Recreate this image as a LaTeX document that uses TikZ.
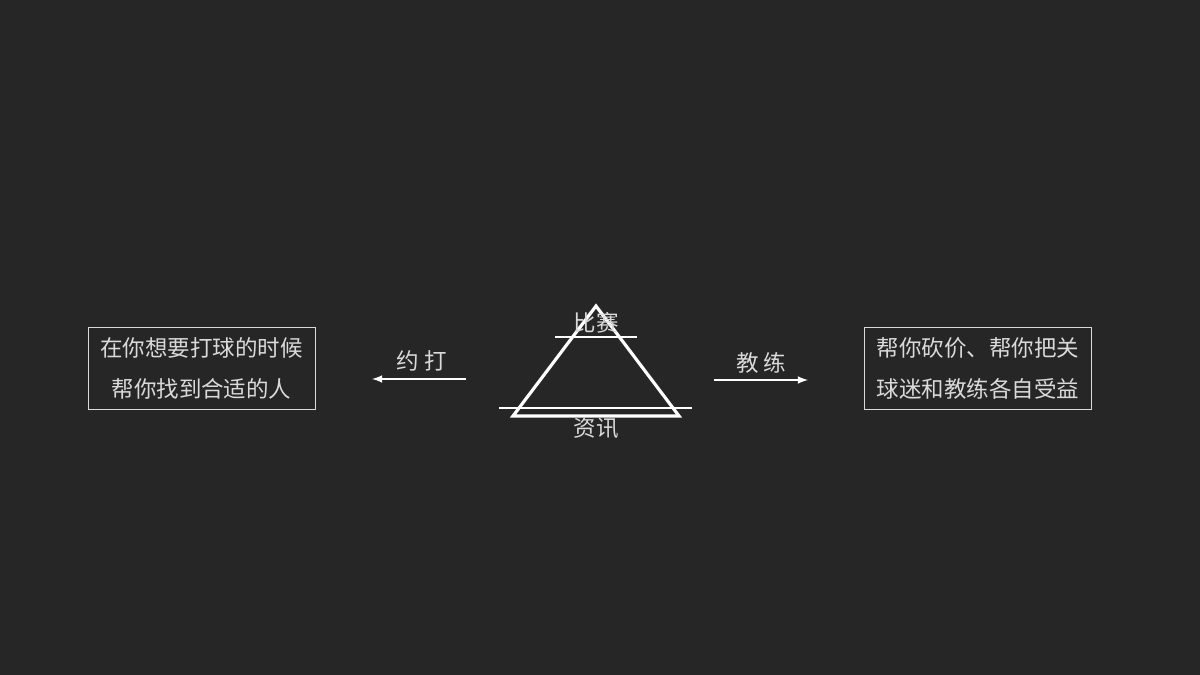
\documentclass[tikz,border=0pt]{standalone}
\usepackage{fontspec}
\setmainfont{Noto Sans CJK SC}
\definecolor{bgdark}{HTML}{262626}
\definecolor{softwhite}{HTML}{DADADA}
\begin{document}
\begin{tikzpicture}[x=0.02cm,y=-0.02cm,
    every node/.style={text=softwhite,font=\fontsize{12.8}{23.6}\selectfont},
    infobox/.style={draw=softwhite,line width=0.5pt,minimum width=4.54cm,minimum height=1.64cm,align=center,inner sep=0pt}]
        \fill[bgdark] (0,0) rectangle (1200,675);
        % pyramid
        \draw[white,line width=1.8pt,line join=miter] (596,306) -- (679,416) -- (513,416) -- cycle;
        \draw[white,line width=1pt] (555,337) -- (637,337);
        \draw[white,line width=1pt] (499,408) -- (692,408);
        \node (top) at (596,323) {比赛};
        \node (bottom) at (596,428) {资讯};
        % boxes
        \node[infobox] (leftbox) at (201.5,368.5) {在你想要打球的时候\\帮你找到合适的人};
        \node[infobox] (rightbox) at (978,368.5) {帮你砍价、帮你把关\\球迷和教练各自受益};
        % arrows
        \coordinate (la) at (466,379);
        \coordinate (lb) at (372,379);
        \coordinate (ra) at (714,380);
        \coordinate (rb) at (808,380);
        \draw[-latex,white,line width=1pt] (la) -- (lb);
        \draw[-latex,white,line width=1pt] (ra) -- (rb);
        \node (yueda) at (422,361) {约 打};
        \node (jiaolian) at (761,363) {教 练};
    \end{tikzpicture}
\end{document}
